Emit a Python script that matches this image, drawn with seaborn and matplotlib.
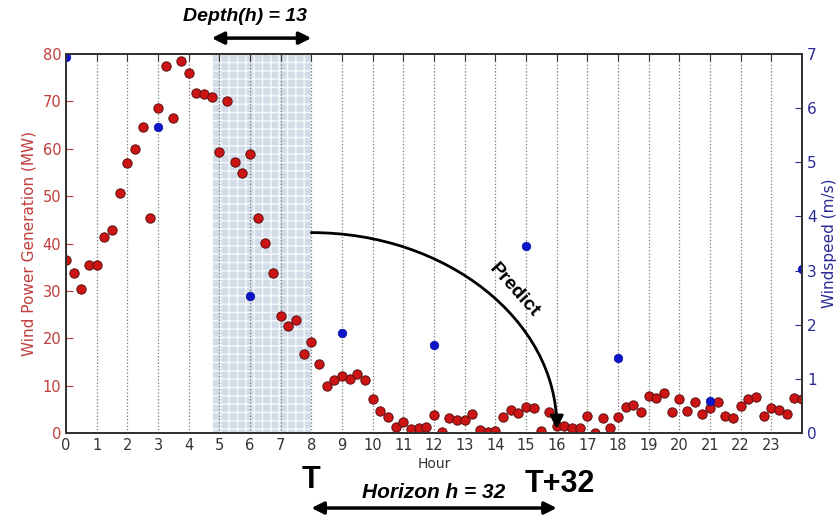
import numpy as np
import pandas as pd
import matplotlib
matplotlib.use("Agg")
import matplotlib.pyplot as plt
from matplotlib.patches import FancyArrowPatch
from matplotlib.path import Path
import seaborn as sns

# wind power every 15 minutes (MW)
power_hours = np.arange(0, 24.01, 0.25)
power_mw = [
    36.6, 33.7, 30.3, 35.4, 35.4, 41.3, 42.8, 50.6,
    57.1, 60.0, 64.6, 45.3, 68.6, 77.4, 66.4, 78.6,
    76.0, 71.7, 71.6, 70.9, 59.4, 70.0, 57.2, 54.8,
    59.0, 45.3, 40.1, 33.7, 24.8, 22.5, 23.9, 16.7,
    19.2, 14.5, 10.0, 11.2, 12.1, 11.3, 12.5, 11.2,
    7.1, 4.6, 3.4, 1.3, 2.4, 0.9, 1.1, 1.2,
    3.7, 0.3, 3.1, 2.7, 2.7, 4.1, 0.7, 0.3,
    0.5, 3.4, 4.9, 4.3, 5.5, 5.3, 0.5, 4.5,
    1.4, 1.5, 1.1, 1.1, 3.6, 0.1, 3.1, 1.1,
    3.4, 5.5, 6.0, 4.5, 7.8, 7.4, 8.5, 4.5,
    7.1, 4.6, 6.5, 4.1, 5.2, 6.5, 3.6, 3.1,
    5.8, 7.1, 7.7, 3.6, 5.2, 4.8, 4.1, 7.4,
    7.1,
]

# wind speed every 3 hours (m/s)
speed_hours = [0, 3, 6, 9, 12, 15, 18, 21, 24]
speed_ms = [6.95, 5.65, 2.53, 1.84, 1.63, 3.45, 1.38, 0.6, 3.03]

hour_ticks = list(range(0, 24))
power_ticks = list(range(0, 81, 10))
speed_ticks = list(range(0, 8))

red_txt = "#c03c3c"
blue_txt = "#2a2a96"

df_power = pd.DataFrame({"hour": power_hours, "mw": power_mw})
df_speed = pd.DataFrame({"hour": speed_hours, "ms": speed_ms})

sns.set_style("white")
plt.rcParams["font.family"] = ["DejaVu Sans"]

fig = plt.figure(figsize=(8.39, 5.17), dpi=100)
ax = fig.add_axes([0.0787, 0.1625, 0.8773, 0.733])

# depth window
ax.axvspan(4.75, 8.0, facecolor="#c9d6e4", edgecolor="white", hatch="++",
           linewidth=0, alpha=0.85, zorder=0)

sns.scatterplot(data=df_power, x="hour", y="mw", ax=ax, color="#cc1414",
                edgecolor="#5a1010", linewidth=0.7, s=45, zorder=3, legend=False)

ax.set_xlim(0, 24)
ax.set_ylim(0, 80)
ax.set_xticks(hour_ticks)
ax.set_yticks(power_ticks)
ax.grid(axis="x", linestyle=":", color="#777777", linewidth=0.9)
ax.grid(axis="y", visible=False)
ax.tick_params(axis="both", direction="in", length=5, top=True, labelsize=10)
ax.tick_params(axis="y", colors=red_txt, right=False, labelsize=10.5)
ax.tick_params(axis="x", colors="#333333", labelsize=10.5)
ax.set_ylabel("Wind Power Generation (MW)", color=red_txt, fontsize=11)
ax.set_xlabel("Hour", color="#333333", fontsize=10, labelpad=3)
for sp in ax.spines.values():
    sp.set_color("#333333")
    sp.set_linewidth(1.4)

ax2 = ax.twinx()
sns.scatterplot(data=df_speed, x="hour", y="ms", ax=ax2, color="#0a14c8",
                edgecolor="#0a14a0", linewidth=0.5, s=38, zorder=2, legend=False)
ax2.set_ylim(0, 7)
ax2.set_yticks(speed_ticks)
ax2.tick_params(axis="y", direction="in", length=5, colors=blue_txt, labelsize=11)
ax2.set_ylabel("Windspeed (m/s)", color=blue_txt, fontsize=11)
ax2.grid(False)
for sp in ax2.spines.values():
    sp.set_color("#333333")
    sp.set_linewidth(1.4)

xtr = ax.get_xaxis_transform()
arrow_kw = dict(arrowstyle="<|-|>", color="black", lw=2.5, mutation_scale=18,
                shrinkA=0, shrinkB=0)

# depth annotation
ax.annotate("", xy=(4.75, 1.042), xytext=(8.0, 1.042), xycoords=xtr,
            arrowprops=arrow_kw, annotation_clip=False)
ax.text(5.85, 1.098, "Depth(h) = 13", transform=xtr, ha="center", va="center",
        fontsize=14, fontweight="bold", fontstyle="italic", color="black",
        family="Liberation Sans")

# horizon annotation
ax.annotate("", xy=(8.0, -0.198), xytext=(16.0, -0.198), xycoords=xtr,
            arrowprops=arrow_kw, annotation_clip=False)
ax.text(12.0, -0.158, "Horizon h = 32", transform=xtr, ha="center", va="center",
        fontsize=15, fontweight="bold", fontstyle="italic", color="black",
        family="Liberation Sans")
ax.text(8.0, -0.125, "T", transform=xtr, ha="center", va="center",
        fontsize=22, fontweight="bold", color="black", family="Liberation Sans")
ax.text(16.1, -0.135, "T+32", transform=xtr, ha="center", va="center",
        fontsize=22, fontweight="bold", color="black", family="Liberation Sans")

# prediction arc: quarter ellipse from end of window to T+32
x0, y0, x1, y1 = 8.0, 42.3, 16.0, 0.8
k = 0.5523
arc = Path([(x0, y0), (x0 + k * (x1 - x0), y0), (x1, y1 + k * (y0 - y1)), (x1, y1)],
           [Path.MOVETO, Path.CURVE4, Path.CURVE4, Path.CURVE4])
ax.add_patch(FancyArrowPatch(path=arc, arrowstyle="-|>", color="black", lw=2,
                             mutation_scale=20, zorder=5))
ax.text(14.6, 30.0, "Predict", rotation=-48, ha="center", va="center",
        fontsize=14, fontweight="bold", color="black", family="Liberation Sans")

fig.savefig("out.png", dpi=100)
